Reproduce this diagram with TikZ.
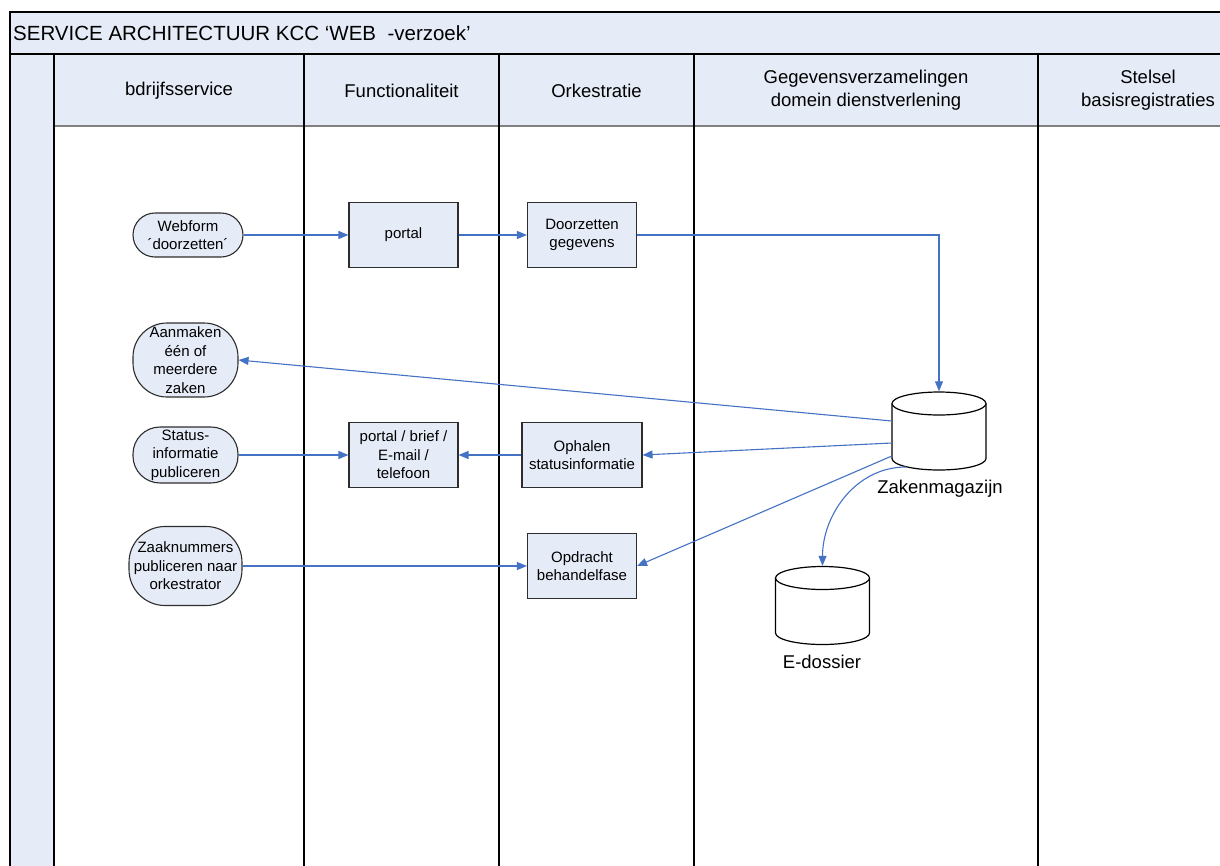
\documentclass[tikz,border=0pt]{standalone}
\usepackage{fontspec}
\setmainfont{Liberation Sans}
\usetikzlibrary{arrows.meta}
\definecolor{lanefill}{RGB}{230,236,247}
\definecolor{flowblue}{RGB}{68,114,196}
\definecolor{boxline}{RGB}{45,45,45}
\newcommand\nodetxt{\fontsize{15}{18.5}\selectfont}
\newcommand\headtxt{\fontsize{18.5}{22.5}\selectfont}
\newcommand\titletxt{\fontsize{20.5}{24}\selectfont}
% database drum centred at (#1,#2)
\newcommand\drum[2]{%
  \draw[drumline] (#1-47,#2+27.5) -- (#1-47,#2-27.5)
    arc[start angle=180,end angle=360,x radius=47,y radius=11.5]
    -- (#1+47,#2+27.5)
    arc[start angle=0,end angle=180,x radius=47,y radius=11.5] -- cycle;
  \draw[drumline] (#1-47,#2+27.5)
    arc[start angle=180,end angle=360,x radius=47,y radius=11.5];}
\begin{document}
\begin{tikzpicture}[x=1pt,y=1pt,
  frame/.style={black,line width=1.5pt},
  procbox/.style={rectangle,draw=boxline,line width=1.1pt,fill=lanefill,
    minimum width=109pt,minimum height=65pt,align=center,font=\nodetxt,inner sep=1pt},
  termbox/.style={rectangle,rounded corners=#1,draw=boxline,line width=1.1pt,
    fill=lanefill,align=center,font=\nodetxt,inner sep=0pt},
  drumline/.style={draw=black,line width=1.2pt,fill=white},
  flow/.style={draw=flowblue,line width=1.1pt,-{Triangle[length=10pt,width=8pt]}},
  head/.style={align=center,font=\headtxt},
  store/.style={rectangle,minimum width=94pt,minimum height=79pt,inner sep=0pt}]
\useasboundingbox (0,0) rectangle (1220,-865);
\clip (0,0) rectangle (1220,-865);

% pool backgrounds
\fill[lanefill] (10,-12) rectangle (1260,-54);
\fill[lanefill] (54,-54) rectangle (1260,-126);
\fill[lanefill] (10,-54) rectangle (54,-900);
\fill[white] (54,-126) rectangle (1260,-900);

% pool lines
\draw[frame] (10,-900) -- (10,-12) -- (1260,-12);
\draw[frame] (10,-54) -- (1260,-54);
\draw[gray,line width=2pt] (54,-126) -- (1260,-126);
\foreach \lx in {54,304,499,694,1038}
  \draw[frame] (\lx,-54) -- (\lx,-900);

% title and lane headers
\node[anchor=west,font=\titletxt,inner sep=0pt] (title) at (13,-33)
  {SERVICE ARCHITECTUUR KCC ‘WEB\ \ -verzoek’};
\node[head] (h1) at (179,-91) {bdrijfsservice};
\node[head] (h2) at (401.5,-91) {Functionaliteit};
\node[head] (h3) at (596.5,-91) {Orkestratie};
\node[head] (h4) at (866,-90) {Gegevensverzamelingen\\domein dienstverlening};
\node[head] (h5) at (1148,-90) {Stelsel\\basisregistraties};

% process steps
\node[termbox=22pt,minimum width=110pt,minimum height=44pt] (wf) at (188,-235)
  {Webform\\´doorzetten´};
\node[procbox] (portal) at (403.5,-235) {portal};
\node[procbox] (dg) at (582,-235) {Doorzetten\\gegevens};

\node[termbox=34pt,minimum width=105pt,minimum height=74pt] (az) at (185.5,-360)
  {Aanmaken\\één of\\meerdere\\zaken};

\node[termbox=27pt,minimum width=105pt,minimum height=56pt] (sp) at (185.5,-455)
  {Status-\\informatie\\publiceren};
\node[procbox] (kan) at (403.5,-455) {portal / brief /\\E-mail /\\telefoon};
\node[procbox,minimum width=120pt] (oph) at (582,-455) {Ophalen\\statusinformatie};

\node[termbox=36pt,minimum width=113pt,minimum height=79pt] (zn) at (185.5,-566)
  {Zaaknummers\\publiceren naar\\orkestrator};
\node[procbox] (obf) at (582,-566) {Opdracht\\behandelfase};

% data stores
\drum{939}{-431}
\node[store] (zm) at (939,-431) {};
\node[font=\headtxt] (zml) at (940,-489) {Zakenmagazijn};
\drum{822.5}{-605.5}
\node[store] (ed) at (822.5,-605.5) {};
\node[font=\headtxt] (edl) at (822,-662) {E-dossier};
\coordinate (zmout) at (906,-467);

% flows
\draw[flow] (wf.east) -- (portal.west);
\draw[flow] (portal.east) -- (dg.west);
\draw[flow] (dg.east) -| (zm.north);
\draw[flow] ([yshift=10pt]zm.west) -- (az.east);
\draw[flow] ([yshift=-12pt]zm.west) -- (oph.east);
\draw[flow] (sp.east) -- (kan.west);
\draw[flow] (oph.west) -- (kan.east);
\draw[flow] ([yshift=-25pt]zm.west) -- (obf.east);
\draw[flow] (zn.east) -- (obf.west);
\draw[flow] (zmout) to[out=180,in=90] (ed.north);
\end{tikzpicture}
\end{document}
